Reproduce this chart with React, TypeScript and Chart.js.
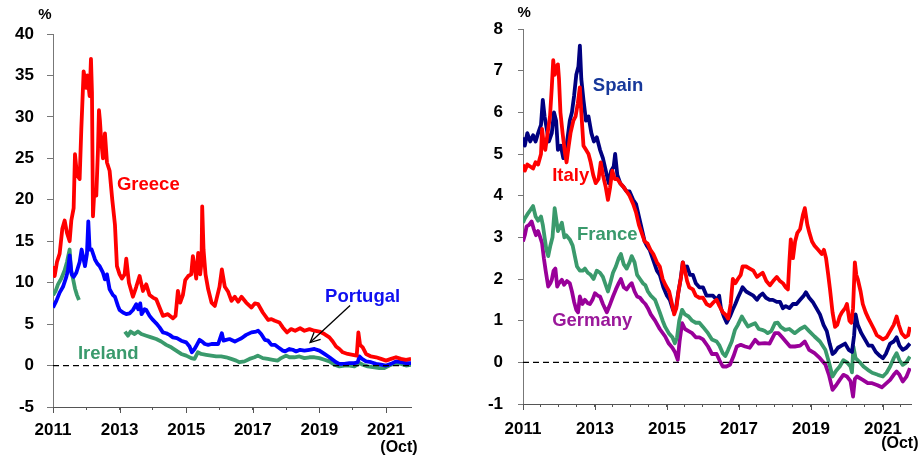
import React, { useEffect, useRef } from "react";
import { Chart, registerables } from "chart.js";

Chart.register(...registerables);

// ---------------- Left panel data (10-year yields, %) ----------------
const greeceX = [2011.0, 2011.05, 2011.12, 2011.2, 2011.28, 2011.35, 2011.42, 2011.5, 2011.55, 2011.62, 2011.66, 2011.72, 2011.8, 2011.85, 2011.92, 2011.96, 2012.0, 2012.03, 2012.06, 2012.1, 2012.14, 2012.17, 2012.2, 2012.24, 2012.3, 2012.35, 2012.38, 2012.41, 2012.45, 2012.5, 2012.56, 2012.62, 2012.7, 2012.78, 2012.86, 2012.92, 2013.0, 2013.07, 2013.15, 2013.2, 2013.28, 2013.4, 2013.5, 2013.6, 2013.7, 2013.8, 2013.9, 2014.0, 2014.1, 2014.2, 2014.3, 2014.45, 2014.6, 2014.68, 2014.75, 2014.82, 2014.9, 2014.97, 2015.06, 2015.15, 2015.2, 2015.3, 2015.36, 2015.42, 2015.46, 2015.48, 2015.52, 2015.58, 2015.66, 2015.76, 2015.86, 2016.0, 2016.07, 2016.16, 2016.26, 2016.36, 2016.46, 2016.56, 2016.66, 2016.8, 2016.96, 2017.06, 2017.16, 2017.3, 2017.46, 2017.56, 2017.66, 2017.8, 2017.9, 2018.03, 2018.15, 2018.27, 2018.42, 2018.55, 2018.7, 2018.85, 2019.0, 2019.15, 2019.3, 2019.4, 2019.5, 2019.6, 2019.7, 2019.85, 2020.0, 2020.12, 2020.17, 2020.22, 2020.3, 2020.4, 2020.55, 2020.7, 2020.85, 2021.0, 2021.15, 2021.3, 2021.45, 2021.6, 2021.75];
const greeceY = [12.0, 10.8, 12.5, 13.5, 16.5, 17.5, 16.0, 15.0, 17.5, 19.0, 25.5, 23.0, 22.5, 28.5, 35.5, 34.5, 33.5, 35.0, 34.0, 32.5, 37.0, 33.0, 18.0, 21.0, 20.5, 26.0, 30.8, 29.5, 27.0, 25.0, 28.0, 24.5, 23.5, 20.0, 17.0, 12.0, 11.0, 10.5, 11.0, 12.9, 10.0, 8.3, 9.5, 10.8, 9.0, 9.8, 8.5, 8.2, 8.0, 7.0, 6.0, 6.2, 5.7, 6.0, 9.0, 7.6, 8.5, 10.3, 10.8, 11.0, 13.2, 10.5, 13.6, 11.0, 12.5, 19.2, 14.0, 11.0, 9.2, 7.6, 7.2, 9.5, 11.6, 9.5, 8.9, 7.8, 8.3, 7.7, 8.3, 7.6, 7.0, 7.5, 7.4, 6.4, 5.5, 5.6, 5.4, 5.2, 4.6, 4.0, 4.4, 4.2, 4.5, 4.2, 4.4, 4.2, 4.1, 3.8, 3.4, 2.9, 2.3, 2.0, 1.6, 1.4, 1.3, 1.2, 4.0, 2.5, 2.2, 1.4, 1.1, 1.0, 0.8, 0.6, 0.8, 1.0, 0.8, 0.7, 0.8];

const portugalX = [2011.0, 2011.1, 2011.2, 2011.3, 2011.4, 2011.45, 2011.5, 2011.56, 2011.62, 2011.7, 2011.8, 2011.86, 2011.96, 2012.02, 2012.06, 2012.1, 2012.16, 2012.26, 2012.33, 2012.4, 2012.5, 2012.56, 2012.62, 2012.7, 2012.8, 2012.86, 2012.95, 2013.0, 2013.1, 2013.2, 2013.3, 2013.4, 2013.5, 2013.56, 2013.62, 2013.66, 2013.75, 2013.8, 2013.9, 2014.0, 2014.1, 2014.2, 2014.3, 2014.4, 2014.5, 2014.6, 2014.72, 2014.85, 2015.0, 2015.1, 2015.17, 2015.25, 2015.32, 2015.4, 2015.48, 2015.56, 2015.66, 2015.76, 2015.86, 2015.96, 2016.07, 2016.12, 2016.2, 2016.3, 2016.46, 2016.56, 2016.66, 2016.8, 2016.96, 2017.1, 2017.16, 2017.25, 2017.36, 2017.46, 2017.56, 2017.66, 2017.76, 2017.9, 2017.97, 2018.1, 2018.2, 2018.3, 2018.42, 2018.55, 2018.7, 2018.85, 2019.0, 2019.15, 2019.3, 2019.4, 2019.5, 2019.6, 2019.75, 2019.9, 2020.05, 2020.15, 2020.2, 2020.28, 2020.4, 2020.55, 2020.7, 2020.85, 2021.0, 2021.15, 2021.3, 2021.45, 2021.6, 2021.75];
const portugalY = [7.0, 7.8, 8.8, 9.5, 10.7, 11.5, 13.3, 11.0, 10.7, 11.2, 12.5, 14.0, 12.0, 13.5, 17.4, 14.0, 14.0, 12.8, 12.3, 12.0, 11.2, 10.4, 11.0, 9.2, 8.5, 8.3, 7.2, 6.7, 6.4, 6.2, 6.3, 6.7, 7.4, 6.8, 7.5, 6.2, 6.8, 6.7, 6.0, 5.5, 5.1, 4.6, 4.0, 3.9, 3.7, 3.4, 3.3, 3.0, 2.8, 2.3, 1.6, 2.0, 2.5, 3.1, 2.9, 2.6, 2.5, 2.6, 2.6, 2.6, 3.9, 3.0, 3.1, 3.2, 2.9, 3.1, 3.3, 3.7, 4.0, 4.1, 4.2, 3.8, 3.1, 3.0, 2.5, 2.5, 2.2, 1.8, 1.7, 2.0, 1.9, 1.7, 1.9, 1.8, 1.9, 2.0, 1.8, 1.4, 1.0, 0.7, 0.4, 0.2, 0.2, 0.3, 0.3, 0.4, 1.1, 0.8, 0.5, 0.4, 0.2, 0.1, 0.0, 0.2, 0.5, 0.4, 0.3, 0.3];

const irelandX = [2011.0, 2011.08, 2011.15, 2011.25, 2011.35, 2011.42, 2011.5, 2011.54, 2011.6, 2011.66, 2011.72, 2011.78, 2012.5, 2013.16, 2013.25, 2013.33, 2013.45, 2013.55, 2013.65, 2013.8, 2013.95, 2014.1, 2014.25, 2014.4, 2014.55, 2014.7, 2014.85, 2015.0, 2015.15, 2015.25, 2015.35, 2015.45, 2015.6, 2015.75, 2015.9, 2016.05, 2016.2, 2016.35, 2016.5, 2016.6, 2016.75, 2016.9, 2017.05, 2017.15, 2017.3, 2017.45, 2017.6, 2017.75, 2017.85, 2018.0, 2018.1, 2018.25, 2018.4, 2018.55, 2018.7, 2018.85, 2019.0, 2019.15, 2019.3, 2019.45, 2019.6, 2019.75, 2019.9, 2020.05, 2020.2, 2020.3, 2020.45, 2020.6, 2020.8, 2020.95, 2021.1, 2021.3, 2021.45, 2021.6, 2021.75];
const irelandY = [8.5, 9.0, 9.8, 10.5, 11.5, 12.5, 14.0, 11.5, 10.5, 9.3, 8.5, 7.9, null, 4.1, 3.6, 4.1, 3.8, 4.1, 3.8, 3.6, 3.4, 3.2, 2.9, 2.5, 2.2, 1.8, 1.4, 1.2, 0.9, 0.8, 1.6, 1.4, 1.3, 1.2, 1.1, 1.1, 1.0, 0.8, 0.6, 0.4, 0.5, 0.8, 1.0, 1.2, 0.9, 0.8, 0.7, 0.6, 0.9, 1.2, 1.0, 1.0, 1.1, 0.9, 1.0, 1.0, 0.9, 0.7, 0.5, 0.1, -0.1, 0.0, 0.0, -0.1, 0.3, 0.1, -0.1, -0.2, -0.3, -0.3, 0.0, 0.3, 0.2, 0.0, 0.1];

// ---------------- Right panel data ----------------
const spainX = [2011.0, 2011.05, 2011.12, 2011.2, 2011.28, 2011.35, 2011.42, 2011.5, 2011.55, 2011.6, 2011.66, 2011.72, 2011.8, 2011.86, 2011.92, 2011.97, 2012.05, 2012.12, 2012.21, 2012.3, 2012.36, 2012.42, 2012.48, 2012.54, 2012.58, 2012.62, 2012.68, 2012.75, 2012.82, 2012.9, 2012.97, 2013.05, 2013.14, 2013.22, 2013.3, 2013.38, 2013.45, 2013.52, 2013.56, 2013.62, 2013.7, 2013.8, 2013.88, 2013.96, 2014.06, 2014.14, 2014.22, 2014.3, 2014.38, 2014.44, 2014.52, 2014.6, 2014.72, 2014.8, 2014.9, 2015.0, 2015.08, 2015.17, 2015.25, 2015.3, 2015.38, 2015.44, 2015.5, 2015.56, 2015.64, 2015.72, 2015.8, 2015.9, 2016.0, 2016.1, 2016.2, 2016.28, 2016.38, 2016.45, 2016.5, 2016.58, 2016.66, 2016.75, 2016.82, 2016.9, 2016.97, 2017.05, 2017.1, 2017.2, 2017.3, 2017.4, 2017.5, 2017.58, 2017.66, 2017.75, 2017.85, 2017.94, 2018.05, 2018.14, 2018.22, 2018.3, 2018.4, 2018.5, 2018.6, 2018.7, 2018.8, 2018.86, 2018.95, 2019.05, 2019.15, 2019.25, 2019.35, 2019.44, 2019.52, 2019.6, 2019.67, 2019.75, 2019.85, 2019.95, 2020.05, 2020.14, 2020.2, 2020.24, 2020.3, 2020.4, 2020.5, 2020.6, 2020.7, 2020.8, 2020.92, 2021.0, 2021.08, 2021.2, 2021.3, 2021.38, 2021.46, 2021.55, 2021.65, 2021.75];
const spainY = [5.4, 5.2, 5.5, 5.3, 5.45, 5.3, 5.5, 5.7, 6.3, 5.9, 5.6, 5.3, 5.5, 6.0, 5.8, 5.1, 5.2, 4.9, 5.2, 5.8, 6.0, 6.4, 6.9, 7.1, 7.6, 6.8, 6.3, 5.8, 5.9, 5.5, 5.3, 5.4, 5.1, 4.9, 4.6, 4.3, 4.6, 4.7, 5.0, 4.5, 4.3, 4.2, 4.1, 4.1, 3.9, 3.8, 3.5, 3.2, 2.9, 2.8, 2.7, 2.5, 2.2, 2.1, 1.8, 1.6, 1.5, 1.25, 1.3, 1.6, 2.0, 2.4, 2.2, 2.3, 2.1, 2.1, 1.9, 1.8, 1.8, 1.6, 1.6, 1.6, 1.5, 1.6, 1.3, 1.1, 0.95, 1.1, 1.25, 1.4, 1.55, 1.7, 1.8, 1.7, 1.65, 1.6, 1.5, 1.6, 1.65, 1.55, 1.5, 1.5, 1.45, 1.45, 1.3, 1.35, 1.3, 1.4, 1.4, 1.5, 1.6, 1.68, 1.55, 1.45, 1.3, 1.15, 0.9, 0.75, 0.45, 0.2, 0.25, 0.35, 0.4, 0.45, 0.3, 0.25, 0.65, 1.15, 0.9, 0.7, 0.55, 0.4, 0.4, 0.25, 0.15, 0.1, 0.2, 0.45, 0.5, 0.6, 0.4, 0.3, 0.35, 0.45];

const italyX = [2011.0, 2011.05, 2011.12, 2011.2, 2011.28, 2011.35, 2011.42, 2011.5, 2011.53, 2011.58, 2011.62, 2011.7, 2011.75, 2011.8, 2011.84, 2011.88, 2011.93, 2011.97, 2012.0, 2012.04, 2012.1, 2012.17, 2012.21, 2012.27, 2012.32, 2012.4, 2012.46, 2012.52, 2012.58, 2012.62, 2012.68, 2012.75, 2012.82, 2012.88, 2012.95, 2013.02, 2013.1, 2013.16, 2013.22, 2013.3, 2013.36, 2013.42, 2013.48, 2013.55, 2013.62, 2013.7, 2013.8, 2013.88, 2013.96, 2014.06, 2014.14, 2014.22, 2014.3, 2014.38, 2014.46, 2014.54, 2014.62, 2014.72, 2014.8, 2014.88, 2014.96, 2015.06, 2015.14, 2015.2, 2015.26, 2015.32, 2015.4, 2015.44, 2015.5, 2015.56, 2015.62, 2015.72, 2015.8, 2015.9, 2016.0, 2016.1, 2016.2, 2016.3, 2016.38, 2016.46, 2016.55, 2016.62, 2016.7, 2016.77, 2016.83, 2016.9, 2016.97, 2017.05, 2017.1, 2017.2, 2017.3, 2017.4, 2017.5, 2017.58, 2017.66, 2017.76, 2017.86, 2017.95, 2018.05, 2018.14, 2018.22, 2018.3, 2018.36, 2018.4, 2018.44, 2018.5, 2018.56, 2018.62, 2018.7, 2018.78, 2018.83, 2018.9, 2018.96, 2019.03, 2019.1, 2019.2, 2019.3, 2019.36, 2019.42, 2019.48, 2019.53, 2019.6, 2019.67, 2019.73, 2019.8, 2019.86, 2019.95, 2020.0, 2020.07, 2020.12, 2020.17, 2020.22, 2020.26, 2020.3, 2020.38, 2020.44, 2020.52, 2020.6, 2020.66, 2020.75, 2020.83, 2020.92, 2021.0, 2021.1, 2021.2, 2021.3, 2021.38, 2021.44, 2021.52, 2021.62, 2021.7, 2021.75];
const italyY = [4.75, 4.6, 4.75, 4.7, 4.65, 4.8, 4.75, 5.0, 5.6, 5.2, 5.1, 5.6, 5.9, 6.6, 7.25, 6.9, 7.1, 7.15, 6.8, 6.0, 5.5, 5.0, 4.8, 5.2, 5.5, 5.8, 5.9, 6.2, 6.6, 6.0, 5.2, 5.1, 5.0, 4.8, 4.5, 4.3, 4.4, 4.8, 4.5, 4.2, 3.9, 4.2, 4.6, 4.4, 4.4, 4.3, 4.2, 4.1, 4.0, 3.8, 3.6, 3.3, 3.1, 2.9, 2.85, 2.7, 2.6, 2.4, 2.3, 2.0, 1.85, 1.7, 1.4, 1.15, 1.3, 1.7, 2.1, 2.4, 2.2, 1.95, 1.8, 1.75, 1.6, 1.55, 1.55, 1.4, 1.35, 1.45, 1.5, 1.35, 1.2, 1.15, 1.05, 1.4, 2.0, 1.9, 2.0, 2.1, 2.3, 2.3, 2.25, 2.2, 2.05, 2.1, 2.15, 1.95, 1.85, 1.95, 2.05, 1.95, 1.9, 1.8, 1.75, 2.4, 2.95, 2.5, 2.9, 3.1, 3.2, 3.55, 3.7, 3.3, 3.1, 2.9, 2.8, 2.7, 2.6, 2.7, 2.5, 2.1, 1.75, 1.2, 0.85, 0.9, 1.1, 1.2, 1.3, 1.4, 1.0, 0.95, 1.3, 2.4, 2.1, 2.0, 1.7, 1.4, 1.2, 1.05, 0.95, 0.8, 0.65, 0.6, 0.55, 0.6, 0.75, 0.9, 1.1, 0.9, 0.7, 0.6, 0.65, 0.85];

const franceX = [2011.0, 2011.05, 2011.12, 2011.2, 2011.28, 2011.35, 2011.42, 2011.5, 2011.55, 2011.6, 2011.65, 2011.7, 2011.76, 2011.82, 2011.88, 2011.93, 2011.97, 2012.03, 2012.08, 2012.15, 2012.2, 2012.3, 2012.38, 2012.44, 2012.5, 2012.58, 2012.66, 2012.72, 2012.8, 2012.88, 2012.96, 2013.05, 2013.14, 2013.22, 2013.3, 2013.36, 2013.44, 2013.5, 2013.58, 2013.66, 2013.72, 2013.8, 2013.88, 2013.96, 2014.02, 2014.1, 2014.17, 2014.25, 2014.33, 2014.4, 2014.47, 2014.55, 2014.67, 2014.8, 2014.88, 2014.95, 2015.05, 2015.15, 2015.22, 2015.28, 2015.34, 2015.42, 2015.5, 2015.6, 2015.7, 2015.8, 2015.9, 2016.0, 2016.14, 2016.25, 2016.38, 2016.46, 2016.55, 2016.62, 2016.7, 2016.8, 2016.89, 2016.97, 2017.08, 2017.15, 2017.25, 2017.35, 2017.45, 2017.55, 2017.64, 2017.72, 2017.8, 2017.9, 2018.0, 2018.08, 2018.16, 2018.28, 2018.4, 2018.55, 2018.7, 2018.83, 2018.95, 2019.1, 2019.25, 2019.4, 2019.5, 2019.6, 2019.7, 2019.8, 2019.9, 2020.0, 2020.1, 2020.14, 2020.18, 2020.24, 2020.36, 2020.46, 2020.58, 2020.7, 2020.86, 2021.0, 2021.1, 2021.2, 2021.3, 2021.38, 2021.46, 2021.55, 2021.65, 2021.75];
const franceY = [3.35, 3.45, 3.55, 3.65, 3.75, 3.5, 3.4, 3.5, 3.3, 3.0, 2.7, 2.55, 2.8, 3.0, 3.7, 3.4, 3.15, 3.25, 3.35, 3.0, 3.05, 2.95, 2.8, 2.55, 2.3, 2.2, 2.2, 2.25, 2.15, 2.1, 2.0, 2.2, 2.15, 2.05, 1.85, 1.7, 1.95, 2.15, 2.3, 2.5, 2.6, 2.35, 2.25, 2.4, 2.55, 2.4, 2.1, 2.0, 1.9, 1.85, 1.7, 1.6, 1.5, 1.2, 1.0, 0.85, 0.7, 0.6, 0.46, 0.6, 1.0, 1.26, 1.15, 1.1, 1.0, 0.95, 0.95, 0.85, 0.7, 0.55, 0.5, 0.4, 0.22, 0.15, 0.3, 0.5, 0.78, 0.9, 1.1, 1.0, 0.86, 0.9, 0.94, 0.8, 0.78, 0.75, 0.7, 0.75, 0.94, 0.95, 0.85, 0.78, 0.8, 0.7, 0.8, 0.86, 0.75, 0.62, 0.5, 0.3, 0.0, -0.34, -0.2, -0.1, 0.05, 0.0, -0.1, -0.24, 0.38, 0.1, 0.0, -0.1, -0.18, -0.25, -0.3, -0.34, -0.25, -0.1, 0.1, 0.22, 0.05, -0.06, 0.0, 0.14];

const germanyX = [2011.0, 2011.05, 2011.1, 2011.17, 2011.24, 2011.3, 2011.36, 2011.42, 2011.48, 2011.53, 2011.58, 2011.63, 2011.7, 2011.76, 2011.8, 2011.85, 2011.9, 2011.95, 2012.0, 2012.08, 2012.14, 2012.22, 2012.3, 2012.36, 2012.42, 2012.48, 2012.53, 2012.58, 2012.65, 2012.72, 2012.8, 2012.86, 2012.93, 2013.0, 2013.08, 2013.14, 2013.22, 2013.33, 2013.4, 2013.5, 2013.58, 2013.66, 2013.72, 2013.8, 2013.88, 2013.96, 2014.02, 2014.1, 2014.17, 2014.25, 2014.33, 2014.4, 2014.47, 2014.55, 2014.67, 2014.8, 2014.95, 2015.05, 2015.15, 2015.22, 2015.3, 2015.35, 2015.42, 2015.5, 2015.6, 2015.7, 2015.8, 2015.9, 2016.0, 2016.14, 2016.25, 2016.38, 2016.46, 2016.55, 2016.65, 2016.75, 2016.85, 2016.94, 2017.05, 2017.17, 2017.3, 2017.45, 2017.55, 2017.72, 2017.85, 2018.0, 2018.1, 2018.2, 2018.3, 2018.42, 2018.55, 2018.7, 2018.83, 2018.95, 2019.1, 2019.25, 2019.4, 2019.5, 2019.6, 2019.7, 2019.8, 2019.9, 2020.0, 2020.1, 2020.17, 2020.22, 2020.28, 2020.44, 2020.58, 2020.7, 2020.85, 2020.97, 2021.1, 2021.2, 2021.3, 2021.38, 2021.46, 2021.55, 2021.65, 2021.75];
const germanyY = [2.9, 3.05, 3.26, 3.3, 3.38, 3.2, 3.05, 3.15, 3.0, 2.86, 2.5, 2.2, 1.82, 1.9, 1.98, 2.2, 2.25, 1.82, 1.9, 1.98, 1.86, 1.95, 1.9, 1.7, 1.45, 1.26, 1.2, 1.58, 1.4, 1.5, 1.42, 1.4, 1.5, 1.66, 1.6, 1.58, 1.4, 1.2, 1.35, 1.58, 1.75, 1.9, 2.0, 1.8, 1.75, 1.85, 1.9, 1.7, 1.58, 1.55, 1.46, 1.4, 1.3, 1.15, 1.0, 0.8, 0.62, 0.45, 0.35, 0.25, 0.06, 0.5, 0.94, 0.8, 0.75, 0.7, 0.6, 0.6, 0.55, 0.38, 0.2, 0.2, 0.05, -0.1, -0.1, -0.06, 0.15, 0.38, 0.42, 0.38, 0.35, 0.54, 0.45, 0.46, 0.45, 0.7, 0.7, 0.6, 0.5, 0.38, 0.38, 0.4, 0.5, 0.3, 0.22, 0.1, -0.05, -0.3, -0.66, -0.55, -0.42, -0.3, -0.34, -0.45, -0.82, -0.4, -0.34, -0.42, -0.5, -0.5, -0.55, -0.6, -0.5, -0.42, -0.3, -0.22, -0.3, -0.46, -0.35, -0.14];

// axis ranges / ticks
const leftYTicks = { min: -5, max: 40, step: 5 };
const rightYTicks = { min: -1, max: 8, step: 1 };
const xStart = 2011;
const leftXEnd = 2021.75;
const rightXEnd = 2021.78;

const FONT = '"Liberation Sans", Arial, Helvetica, sans-serif';

type Label = { text: string; x: number; y: number; color: string; size: number; align: CanvasTextAlign };

const leftLabels: Label[] = [
  { text: "Greece", x: 2012.92, y: 21.2, color: "#FF0000", size: 18.5, align: "left" },
  { text: "Portugal", x: 2019.17, y: 7.7, color: "#1010F0", size: 18.5, align: "left" },
  { text: "Ireland", x: 2011.75, y: 0.8, color: "#3A9A6C", size: 18.5, align: "left" },
  { text: "%", x: 2010.76, y: 41.8, color: "#000", size: 15, align: "center" },
  { text: "(Oct)", x: 2021.39, y: -10.4, color: "#000", size: 16, align: "center" },
];
const leftArrow = { from: [2019.92, 7.24], to: [2018.72, 2.77] };

const rightLabels: Label[] = [
  { text: "Spain", x: 2012.94, y: 6.51, color: "#17389A", size: 18.5, align: "left" },
  { text: "Italy", x: 2011.81, y: 4.35, color: "#FF0000", size: 18.5, align: "left" },
  { text: "France", x: 2012.5, y: 2.93, color: "#3A9A6C", size: 18.5, align: "left" },
  { text: "Germany", x: 2011.81, y: 0.88, color: "#9A189A", size: 18.5, align: "left" },
  { text: "%", x: 2011.03, y: 8.28, color: "#000", size: 15, align: "center" },
  { text: "(Oct)", x: 2021.47, y: -2.05, color: "#000", size: 16, align: "center" },
];

const pts = (xs: number[], ys: (number | null)[]) => xs.map((x, i) => ({ x, y: ys[i] }));

const isLabeledYear = (v: number) => Math.abs(v - Math.round(v)) < 1e-6 && Math.round(v) % 2 === 1;

function annotPlugin(labels: Label[], arrow: { from: number[]; to: number[] } | null) {
  return {
    id: "annot",
    afterDraw(chart: any) {
      const { ctx, scales } = chart;
      const xs = scales.x;
      const ys = scales.y;
      ctx.save();
      // long ticks at labelled years
      ctx.strokeStyle = "#555";
      ctx.lineWidth = 1;
      const bottom = chart.chartArea.bottom;
      for (let yr = xStart; yr <= 2021; yr += 2) {
        const px = Math.round(xs.getPixelForValue(yr)) + 0.5;
        ctx.beginPath();
        ctx.moveTo(px, bottom);
        ctx.lineTo(px, bottom + 6);
        ctx.stroke();
      }
      for (const l of labels) {
        ctx.font = `bold ${l.size}px ${FONT}`;
        ctx.fillStyle = l.color;
        ctx.textAlign = l.align;
        ctx.textBaseline = "alphabetic";
        ctx.fillText(l.text, xs.getPixelForValue(l.x), ys.getPixelForValue(l.y));
      }
      if (arrow) {
        const x1 = xs.getPixelForValue(arrow.from[0]);
        const y1 = ys.getPixelForValue(arrow.from[1]);
        const x2 = xs.getPixelForValue(arrow.to[0]);
        const y2 = ys.getPixelForValue(arrow.to[1]);
        ctx.strokeStyle = "#000";
        ctx.lineWidth = 1.3;
        ctx.beginPath();
        ctx.moveTo(x1, y1);
        ctx.lineTo(x2, y2);
        ctx.stroke();
        const ang = Math.atan2(y1 - y2, x1 - x2);
        const len = 11;
        const spread = 0.45;
        ctx.beginPath();
        ctx.moveTo(x2 + len * Math.cos(ang - spread), y2 + len * Math.sin(ang - spread));
        ctx.lineTo(x2, y2);
        ctx.lineTo(x2 + len * Math.cos(ang + spread), y2 + len * Math.sin(ang + spread));
        ctx.stroke();
      }
      ctx.restore();
    },
  };
}

function lineDs(label: string, data: any[], color: string) {
  return {
    label,
    data,
    borderColor: color,
    backgroundColor: color,
    borderWidth: 3.8,
    pointRadius: 0,
    tension: 0,
    spanGaps: false,
    fill: false,
    borderJoinStyle: "round",
  };
}

function zeroDs(xEnd: number) {
  return {
    label: "zero",
    data: [
      { x: xStart, y: 0 },
      { x: xEnd, y: 0 },
    ],
    borderColor: "#000",
    borderWidth: 1.3,
    borderDash: [6, 4],
    pointRadius: 0,
    fill: false,
  };
}

function makeOptions(p: {
  xEnd: number;
  xStep: number;
  y: { min: number; max: number; step: number };
  padding: { left: number; top: number; right: number; bottom: number };
  yWidth: number;
  xHeight: number;
  yTickLen: number;
  yPad: number;
  xPad: number;
}) {
  const tickFont = { family: FONT, size: 17, weight: "bold" as const };
  return {
    responsive: false,
    animation: false,
    events: [],
    layout: { padding: p.padding },
    plugins: { legend: { display: false }, tooltip: { enabled: false } },
    scales: {
      x: {
        type: "linear",
        min: xStart,
        max: p.xEnd,
        afterFit: (s: any) => {
          s.height = p.xHeight;
        },
        ticks: {
          stepSize: p.xStep,
          includeBounds: false,
          autoSkip: false,
          maxRotation: 0,
          padding: p.xPad,
          color: "#000",
          font: tickFont,
          callback: (v: number) => (isLabeledYear(v) ? String(Math.round(v)) : ""),
        },
        grid: { drawOnChartArea: false, drawTicks: true, tickLength: 3, tickColor: "#555", tickWidth: 1 },
        border: { display: true, color: "#555", width: 1 },
      },
      y: {
        type: "linear",
        min: p.y.min,
        max: p.y.max,
        afterFit: (s: any) => {
          s.width = p.yWidth;
        },
        ticks: {
          stepSize: p.y.step,
          padding: p.yPad,
          color: "#000",
          font: tickFont,
        },
        grid: { drawOnChartArea: false, drawTicks: true, tickLength: p.yTickLen, tickColor: "#777", tickWidth: 1 },
        border: { display: true, color: "#777", width: 1 },
      },
    },
  };
}

function ChartBox(props: { width: number; height: number; left: number; build: () => any }) {
  const ref = useRef<HTMLCanvasElement | null>(null);
  useEffect(() => {
    if (!ref.current) return;
    const chart = new Chart(ref.current, props.build());
    return () => chart.destroy();
  }, []);
  return (
    <canvas
      ref={ref}
      width={props.width}
      height={props.height}
      style={{ position: "absolute", left: props.left, top: 0, width: props.width, height: props.height, display: "block" }}
    />
  );
}

export default function App() {
  const buildLeft = () => ({
    type: "line",
    data: {
      datasets: [
        zeroDs(leftXEnd),
        lineDs("Greece", pts(greeceX, greeceY), "#FF0000"),
        lineDs("Portugal", pts(portugalX, portugalY), "#0000FF"),
        lineDs("Ireland", pts(irelandX, irelandY), "#3A9A6C"),
      ],
    },
    options: makeOptions({
      xEnd: leftXEnd,
      xStep: 1,
      y: leftYTicks,
      padding: { left: 0, top: 34, right: 49, bottom: 0 },
      yWidth: 53,
      xHeight: 52,
      yTickLen: 6,
      yPad: 13,
      xPad: 10,
    }),
    plugins: [annotPlugin(leftLabels, leftArrow)],
  });

  const buildRight = () => ({
    type: "line",
    data: {
      datasets: [
        zeroDs(rightXEnd),
        lineDs("Italy", pts(italyX, italyY), "#FF0000"),
        lineDs("Spain", pts(spainX, spainY), "#000080"),
        lineDs("France", pts(franceX, franceY), "#3A9A6C"),
        lineDs("Germany", pts(germanyX, germanyY), "#990099"),
      ],
    },
    options: makeOptions({
      xEnd: rightXEnd,
      xStep: 0.5,
      y: rightYTicks,
      padding: { left: 0, top: 29, right: 13, bottom: 0 },
      yWidth: 63,
      xHeight: 55,
      yTickLen: 5,
      yPad: 15,
      xPad: 12,
    }),
    plugins: [annotPlugin(rightLabels, null)],
  });

  return (
    <div style={{ position: "fixed", left: 0, top: 0, width: 924, height: 459, background: "#fff", overflow: "hidden" }}>
      <ChartBox width={460} height={459} left={0} build={buildLeft} />
      <ChartBox width={464} height={459} left={460} build={buildRight} />
    </div>
  );
}
